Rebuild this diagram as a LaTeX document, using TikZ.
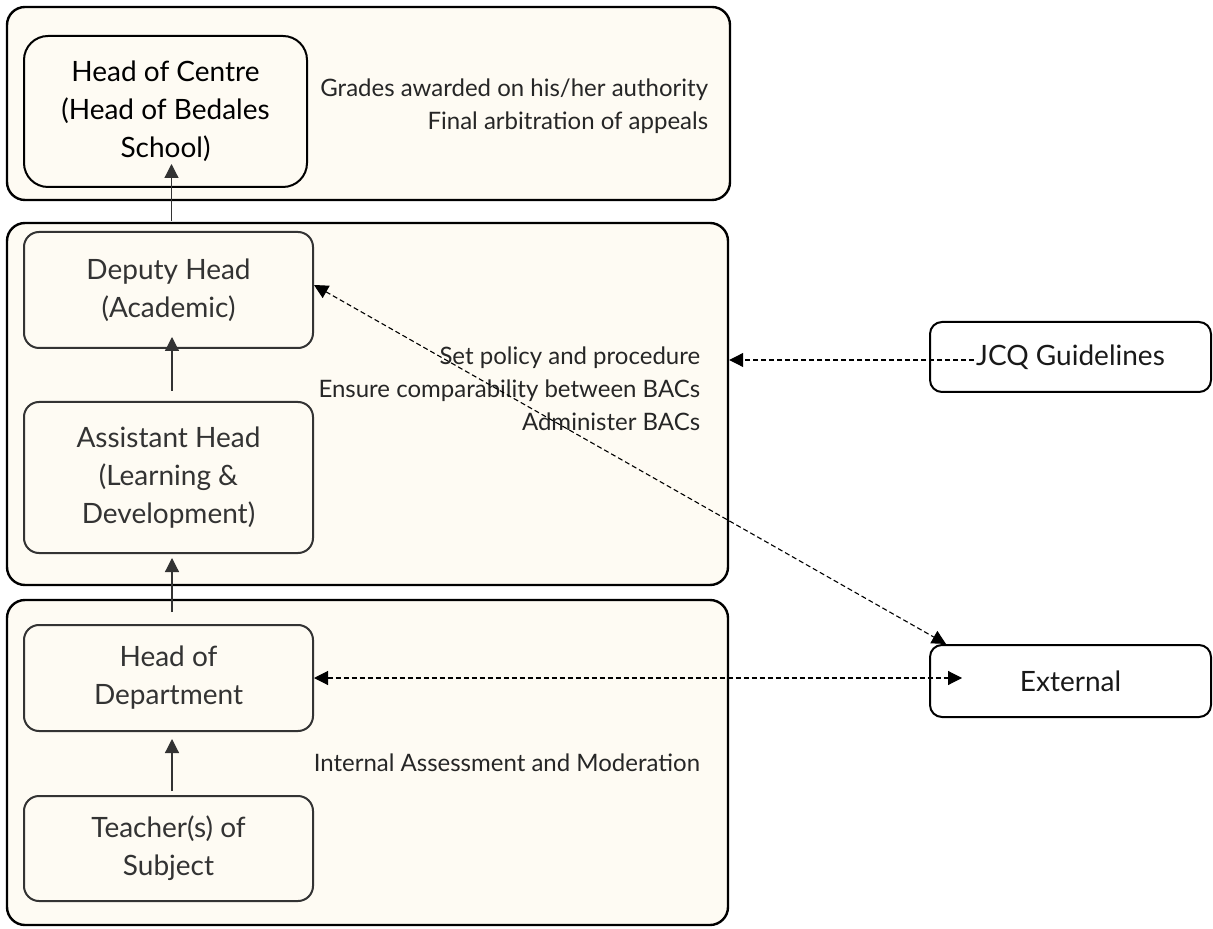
\documentclass[tikz,border=0pt]{standalone}
\usepackage{fontspec}
\setmainfont{Lato}
\usetikzlibrary{arrows.meta}
\definecolor{cream}{HTML}{FEFBF3}
\definecolor{dgray}{HTML}{333333}

\begin{document}
\begin{tikzpicture}[x=0.5pt, y=-0.5pt,
    >={Triangle[length=7pt, width=7pt]},
    tier/.style={rectangle, draw=black, fill=cream, line width=1.2pt, rounded corners=9pt},
    role/.style={rectangle, draw=dgray, fill=cream, line width=1pt, rounded corners=7.5pt, align=center, text=dgray, font=\fontsize{14}{19}\selectfont, minimum width=144.5pt},
    outside/.style={rectangle, draw=black, fill=white, line width=1pt, rounded corners=6pt, align=center, text=black!90, font=\fontsize{14}{19}\selectfont, minimum width=140.5pt},
    remark/.style={anchor=east, align=right, text=black!85, font=\fontsize{12}{16.5}\selectfont},
    arr/.style={->, line width=0.6pt, dgray},
    dashline/.style={dash pattern=on 2.5pt off 1.5pt, line width=0.55pt, black},
]
\useasboundingbox (0,0) rectangle (1213,929);

% three tiers
\node[tier, minimum width=361.5pt, minimum height=96.5pt] (tier1) at (368.5,103.5) {};
\node[tier, minimum width=360.5pt, minimum height=181pt] (tier2) at (367.5,404) {};
\node[tier, minimum width=360.5pt, minimum height=162.5pt] (tier3) at (367.5,762.5) {};

% roles
\node[role, draw=black, text=black, rounded corners=12pt, minimum width=141.5pt, minimum height=75.5pt] (hoc) at (165.5,111.5) {Head of Centre\\(Head of Bedales\\School)};
\node[role, minimum height=58pt] (deputy) at (168.5,290) {Deputy Head\\(Academic)};
\node[role, minimum height=75.5pt] (assistant) at (168.5,477.5) {Assistant Head\\(Learning \&\\Development)};
\node[role, minimum height=53pt] (hod) at (168.5,678) {Head of\\Department};
\node[role, minimum height=52.5pt] (teacher) at (168.5,848.5) {Teacher(s) of\\Subject};

\node[outside, minimum height=35pt] (jcq) at (1070.5,357) {JCQ Guidelines};
\node[outside, minimum height=36pt] (ext) at (1070.5,681) {External};

% what each tier does
\node[remark] (grades) at ([xshift=-8pt, yshift=-1.5pt]tier1.east) {Grades awarded on his/her authority\\Final arbitration of appeals};
\node[remark] (policy) at ([xshift=-11pt, yshift=7.5pt]tier2.east) {Set policy and procedure\\Ensure comparability between BACs\\Administer BACs};
\node[remark] (internal) at ([xshift=-11pt]tier3.east) {Internal Assessment and Moderation};

% line of authority
\draw[arr] ([xshift=3pt, yshift=-16.5pt]hoc.south) -- ([xshift=3pt, yshift=12pt]hoc.south);
\draw[arr] ([xshift=1.75pt, yshift=5pt]assistant.north) -- ([xshift=1.75pt, yshift=6pt]deputy.south);
\draw[arr] ([xshift=1.75pt, yshift=6pt]hod.north) -- ([xshift=1.75pt, yshift=-2pt]assistant.south);
\draw[arr] ([xshift=1.75pt, yshift=2pt]teacher.north) -- ([xshift=1.75pt, yshift=-3.5pt]hod.south);

% outside links
\coordinate (jcqin) at ([xshift=22.5pt, yshift=-1.5pt]jcq.west);
\coordinate (extin) at ([xshift=16.5pt]ext.west);
\draw[dashline, ->] (jcqin) -- (jcqin -| tier2.east);
\draw[dashline, <->] (hod.east) -- (hod.east -| extin);
\draw[dashline, <->] ([yshift=2.5pt]deputy.east) -- ([xshift=8.5pt]ext.north west);
\end{tikzpicture}
\end{document}
